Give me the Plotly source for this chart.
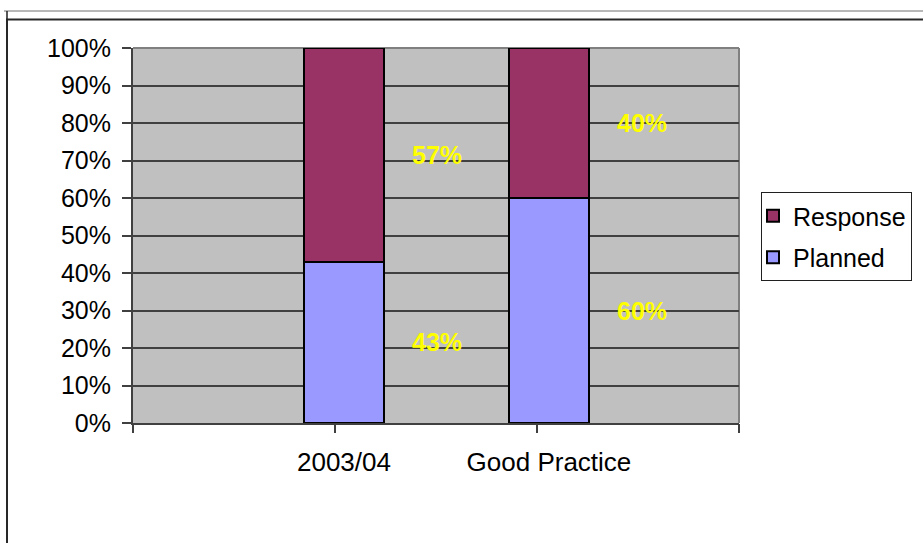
import plotly.graph_objects as go

# Chart data
categories = ["2003/04", "Good Practice"]
planned = [43, 60]
response = [57, 40]
y_ticks = list(range(0, 101, 10))
y_tick_text = [f"{v}%" for v in y_ticks]

FONT = "Liberation Sans, Arial, sans-serif"
DARK = "#404040"

# Figure and plot-area geometry in pixels
W, H = 923, 543
PL, PR, PT, PB = 133, 739, 48, 423


def fx(x):
    """Pixel x -> paper x."""
    return (x - PL) / (PR - PL)


def fy(y):
    """Pixel y -> paper y."""
    return (PB - y) / (PB - PT)


fig = go.Figure()

bar_line = dict(color="black", width=2)
fig.add_bar(name="Planned", x=categories, y=planned, width=0.39,
            marker=dict(color="#9999FF", line=bar_line),
            legendgroup="planned", legendrank=2)
fig.add_bar(name="Response", x=categories, y=response, width=0.39,
            marker=dict(color="#993366", line=bar_line),
            legendgroup="response", legendrank=1)

# Helper trace so the tick-only overlay axis gets drawn
fig.add_scatter(x=[0, 3], y=[0, 0], xaxis="x2", mode="none",
                showlegend=False, hoverinfo="skip")

# Yellow value labels beside each segment
annotations = []
for cat, p, r in zip(categories, planned, response):
    for base, v in ((0, p), (p, r)):
        annotations.append(dict(
            x=cat, y=base + v / 2, xref="x", yref="y", xshift=93,
            text=f"{v}%", showarrow=False,
            font=dict(family=FONT, size=25, color="#FFFF00", weight="bold"),
        ))

shapes = [
    # plot-area border (top and right)
    dict(type="line", xref="paper", yref="paper", x0=0, x1=1, y0=1, y1=1,
         line=dict(color="#808080", width=2), layer="between"),
    dict(type="line", xref="paper", yref="paper", x0=1, x1=1, y0=0, y1=1,
         line=dict(color="#808080", width=2), layer="between"),
    # outer chart frame: thin rule on top, darker framed box below it
    dict(type="line", xref="paper", yref="paper", x0=fx(4), x1=fx(930),
         y0=fy(11), y1=fy(11), line=dict(color="#707070", width=1)),
    dict(type="rect", xref="paper", yref="paper", x0=fx(7), x1=fx(940),
         y0=fy(19.5), y1=fy(570), line=dict(color="#282828", width=2),
         fillcolor="rgba(0,0,0,0)", layer="above"),
    dict(type="line", xref="paper", yref="paper", x0=fx(7), x1=fx(7),
         y0=fy(11), y1=fy(20), line=dict(color="#202020", width=1.5)),
]

fig.update_layout(
    width=W, height=H,
    margin=dict(l=PL, r=W - PR, t=PT, b=H - PB, pad=0, autoexpand=False),
    paper_bgcolor="white", plot_bgcolor="#C0C0C0",
    barmode="stack",
    font=dict(family=FONT, size=25, color="black"),
    showlegend=True,
    legend=dict(
        x=fx(761), y=fy(192), xanchor="left", yanchor="top",
        bordercolor="#202020", borderwidth=1, bgcolor="white",
        font=dict(family=FONT, size=25, color="black"),
        traceorder="grouped", tracegroupgap=6, itemwidth=30,
        indentation=-9,
    ),
    xaxis=dict(
        type="category", range=[-1.029, 1.927],
        showline=True, linecolor=DARK, linewidth=2,
        ticks="", showgrid=False, zeroline=False,
        tickfont=dict(family=FONT, size=26, color="black"),
        ticklabelstandoff=15,
    ),
    xaxis2=dict(
        overlaying="x", anchor="y", side="bottom", range=[0, 3],
        tickvals=[0, 1, 2, 3], ticks="outside", ticklen=9, tickwidth=2,
        tickcolor=DARK, showticklabels=False, showgrid=False,
        zeroline=False, showline=False,
    ),
    yaxis=dict(
        range=[0, 100], tickmode="array", tickvals=y_ticks, ticktext=y_tick_text,
        ticks="outside", ticklen=9, tickwidth=2, tickcolor=DARK,
        showgrid=True, gridcolor=DARK, gridwidth=1.5,
        showline=True, linecolor=DARK, linewidth=2, zeroline=False,
        tickfont=dict(family=FONT, size=25, color="black"),
        ticklabelstandoff=6,
    ),
    annotations=annotations,
    shapes=shapes,
    hovermode=False,
)

fig.write_html("out.html")
